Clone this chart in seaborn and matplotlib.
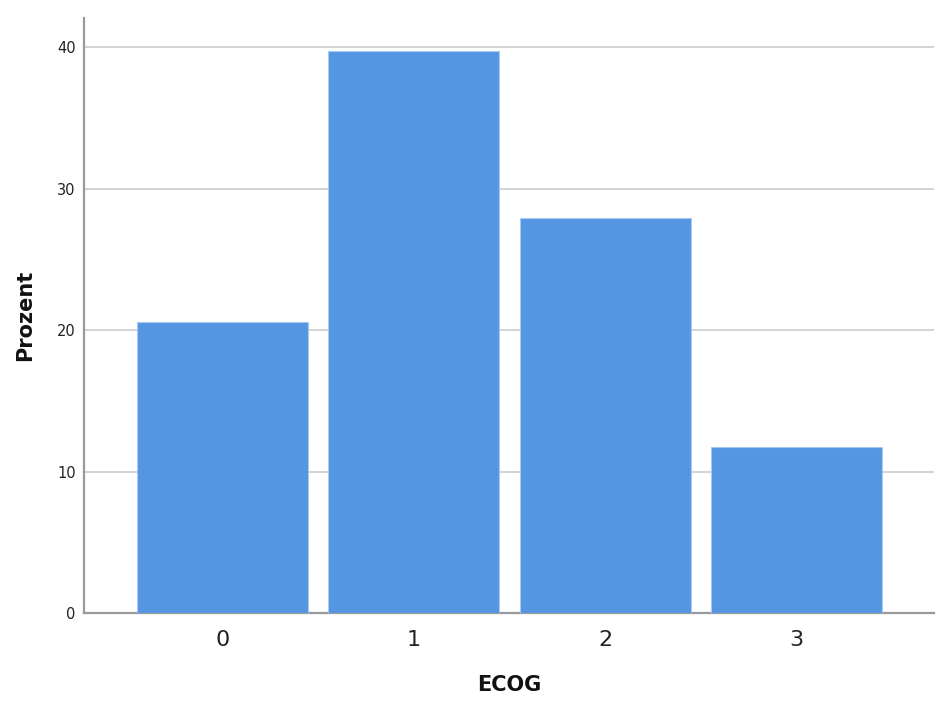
import matplotlib
matplotlib.use("Agg")
import matplotlib.pyplot as plt
import seaborn as sns
import pandas as pd

categories = ["0", "1", "2", "3"]
prozent = [20.6, 39.7, 27.9, 11.7]
y_ticks = [0, 10, 20, 30, 40]

df = pd.DataFrame({"ECOG": categories, "Prozent": prozent})

sns.set_theme(style="white")
plt.rcParams['font.family'] = ['DejaVu Sans']

fig = plt.figure(figsize=(9.39, 7.06), dpi=100)
ax = fig.add_axes([0.0895, 0.1317, 0.9052, 0.8428])

sns.barplot(data=df, x="ECOG", y="Prozent", color="#5596E3", saturation=1,
            width=0.895, edgecolor="#a9c9f2", linewidth=0.8, ax=ax, zorder=3)

ax.set_xlim(-0.725, 3.72)
ax.set_ylim(0, 42.05)
ax.set_yticks(y_ticks)
ax.set_yticklabels([str(t) for t in y_ticks], fontsize=10.5, color="#222222")
ax.tick_params(axis='x', labelsize=16, length=0, pad=12, colors="#222222")
ax.tick_params(axis='y', length=0, pad=6)
ax.yaxis.grid(True, color="#c8c8c8", linewidth=1.1, zorder=0)
ax.set_axisbelow(True)

for s in ["top", "right"]:
    ax.spines[s].set_visible(False)
for s in ["left", "bottom"]:
    ax.spines[s].set_color("#9a9a9a")
    ax.spines[s].set_linewidth(1.6)

ax.set_xlabel("ECOG", fontsize=15, fontweight="bold", labelpad=18, color="#111111")
ax.set_ylabel("Prozent", fontsize=15, fontweight="bold", labelpad=16, color="#111111")

fig.savefig("out.png", dpi=100)
